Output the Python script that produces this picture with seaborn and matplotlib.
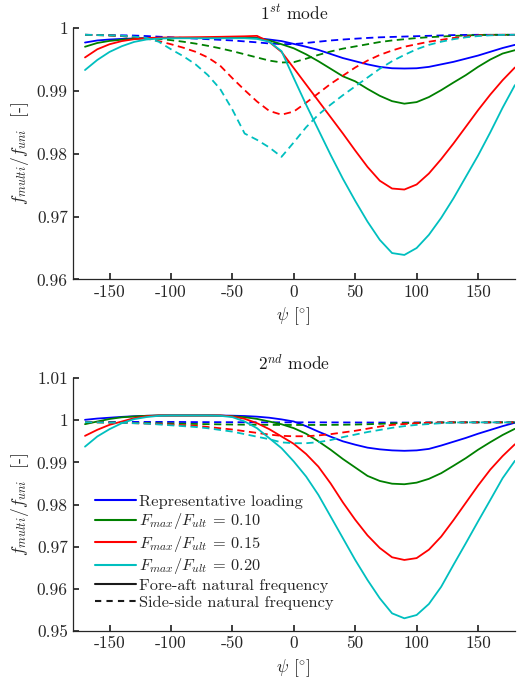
import pandas as pd
import matplotlib.pyplot as plt
import seaborn as sns
from matplotlib.lines import Line2D
from matplotlib.ticker import FuncFormatter

# wind-wave misalignment angle [deg]
psi = [-170, -160, -150, -140, -130, -120, -110, -100, -90, -80, -70, -60,
       -50, -40, -30, -20, -10, 0, 10, 20, 30, 40, 50, 60,
       70, 80, 90, 100, 110, 120, 130, 140, 150, 160, 170, 180]

cases = ["Representative loading", "0.10", "0.15", "0.20"]
case_labels = ["Representative loading",
               r"$F_{max}/F_{ult}$ = 0.10",
               r"$F_{max}/F_{ult}$ = 0.15",
               r"$F_{max}/F_{ult}$ = 0.20"]
case_colors = [(0, 0, 1), (0, 0.5, 0), (1, 0, 0), (0, 0.75, 0.75)]

# 1st mode, fore-aft
rep_fa_1 = [0.99767, 0.99800, 0.99815, 0.99825, 0.99832, 0.99838, 0.99840, 0.99840, 0.99840, 0.99840, 0.99840, 0.99840,
            0.99840, 0.99840, 0.99838, 0.99815, 0.99790, 0.99745, 0.99700, 0.99650, 0.99585, 0.99520, 0.99470, 0.99420,
            0.99380, 0.99358, 0.99354, 0.99358, 0.99380, 0.99420, 0.99460, 0.99510, 0.99560, 0.99620, 0.99680, 0.99730]
g_fa_1 = [0.99700, 0.99760, 0.99793, 0.99812, 0.99826, 0.99835, 0.99840, 0.99840, 0.99840, 0.99840, 0.99840, 0.99840,
          0.99840, 0.99840, 0.99835, 0.99800, 0.99740, 0.99675, 0.99580, 0.99470, 0.99350, 0.99230, 0.99150, 0.99030,
          0.98920, 0.98835, 0.98795, 0.98820, 0.98900, 0.99010, 0.99131, 0.99248, 0.99380, 0.99497, 0.99592, 0.99645]
r_fa_1 = [0.99530, 0.99660, 0.99740, 0.99790, 0.99820, 0.99838, 0.99845, 0.99848, 0.99850, 0.99852, 0.99855, 0.99858,
          0.99862, 0.99866, 0.99873, 0.99777, 0.99618, 0.99360, 0.99100, 0.98840, 0.98580, 0.98320, 0.98050, 0.97790,
          0.97570, 0.97446, 0.97430, 0.97510, 0.97685, 0.97913, 0.98162, 0.98426, 0.98691, 0.98940, 0.99168, 0.99370]
c_fa_1 = [0.99330, 0.99490, 0.99618, 0.99709, 0.99777, 0.99815, 0.99830, 0.99835, 0.99835, 0.99835, 0.99835, 0.99835,
          0.99835, 0.99835, 0.99825, 0.99780, 0.99630, 0.99200, 0.98780, 0.98380, 0.97980, 0.97600, 0.97250, 0.96920,
          0.96630, 0.96420, 0.96390, 0.96500, 0.96710, 0.96980, 0.97290, 0.97630, 0.97970, 0.98340, 0.98730, 0.99090]

# 1st mode, side-side
rep_ss_1 = [0.99890, 0.99888, 0.99885, 0.99882, 0.99878, 0.99870, 0.99860, 0.99850, 0.99840, 0.99830, 0.99820, 0.99810,
            0.99800, 0.99785, 0.99770, 0.99752, 0.99742, 0.99742, 0.99760, 0.99780, 0.99800, 0.99815, 0.99828, 0.99840,
            0.99850, 0.99856, 0.99862, 0.99868, 0.99874, 0.99880, 0.99885, 0.99888, 0.99890, 0.99890, 0.99890, 0.99890]
g_ss_1 = [0.99890, 0.99885, 0.99880, 0.99870, 0.99855, 0.99840, 0.99825, 0.99805, 0.99780, 0.99750, 0.99715, 0.99675,
          0.99630, 0.99580, 0.99530, 0.99480, 0.99450, 0.99455, 0.99510, 0.99570, 0.99625, 0.99670, 0.99705, 0.99740,
          0.99775, 0.99800, 0.99820, 0.99838, 0.99852, 0.99862, 0.99872, 0.99880, 0.99886, 0.99890, 0.99890, 0.99890]
r_ss_1 = [0.99890, 0.99885, 0.99880, 0.99870, 0.99855, 0.99830, 0.99790, 0.99740, 0.99685, 0.99620, 0.99530, 0.99400,
          0.99200, 0.99010, 0.98830, 0.98680, 0.98620, 0.98670, 0.98810, 0.98960, 0.99110, 0.99240, 0.99370, 0.99480,
          0.99570, 0.99640, 0.99700, 0.99740, 0.99780, 0.99810, 0.99840, 0.99860, 0.99880, 0.99888, 0.99890, 0.99890]
c_ss_1 = [0.99890, 0.99886, 0.99882, 0.99875, 0.99860, 0.99840, 0.99780, 0.99660, 0.99550, 0.99420, 0.99250, 0.99030,
          0.98700, 0.98320, 0.98220, 0.98100, 0.97950, 0.98180, 0.98420, 0.98620, 0.98780, 0.98930, 0.99070, 0.99210,
          0.99350, 0.99470, 0.99570, 0.99660, 0.99730, 0.99780, 0.99820, 0.99850, 0.99870, 0.99882, 0.99888, 0.99890]

# 2nd mode, fore-aft
rep_fa_2 = [1.00010, 1.00040, 1.00060, 1.00080, 1.00095, 1.00105, 1.00112, 1.00115, 1.00115, 1.00115, 1.00115, 1.00112,
            1.00108, 1.00100, 1.00085, 1.00060, 1.00020, 0.99970, 0.99860, 0.99730, 0.99610, 0.99500, 0.99420, 0.99350,
            0.99310, 0.99285, 0.99275, 0.99285, 0.99320, 0.99400, 0.99490, 0.99580, 0.99680, 0.99770, 0.99860, 0.99940]
g_fa_2 = [0.99907, 0.99970, 1.00030, 1.00070, 1.00090, 1.00105, 1.00113, 1.00113, 1.00113, 1.00113, 1.00113, 1.00110,
          1.00095, 1.00072, 1.00032, 0.99970, 0.99905, 0.99812, 0.99680, 0.99500, 0.99300, 0.99080, 0.98880, 0.98680,
          0.98560, 0.98495, 0.98482, 0.98520, 0.98610, 0.98744, 0.98920, 0.99100, 0.99300, 0.99480, 0.99650, 0.99797]
r_fa_2 = [0.99630, 0.99773, 0.99892, 0.99970, 1.00050, 1.00095, 1.00112, 1.00113, 1.00113, 1.00113, 1.00113, 1.00113,
          1.00090, 1.00034, 0.99931, 0.99789, 0.99615, 0.99440, 0.99200, 0.98900, 0.98500, 0.98050, 0.97640, 0.97270,
          0.96970, 0.96750, 0.96686, 0.96730, 0.96930, 0.97240, 0.97630, 0.98040, 0.98450, 0.98830, 0.99150, 0.99430]
c_fa_2 = [0.99374, 0.99615, 0.99789, 0.99931, 1.00026, 1.00075, 1.00105, 1.00113, 1.00113, 1.00113, 1.00113, 1.00105,
          1.00074, 0.99971, 0.99812, 0.99575, 0.99338, 0.99021, 0.98666, 0.98230, 0.97716, 0.97201, 0.96686, 0.96211,
          0.95777, 0.95420, 0.95302, 0.95380, 0.95642, 0.96050, 0.96570, 0.97080, 0.97600, 0.98110, 0.98625, 0.99037]

# 2nd mode, side-side
rep_ss_2 = [0.99960, 0.99960, 0.99960, 0.99960, 0.99960, 0.99960, 0.99960, 0.99960, 0.99958, 0.99956, 0.99955, 0.99954,
            0.99953, 0.99952, 0.99951, 0.99950, 0.99950, 0.99950, 0.99950, 0.99950, 0.99949, 0.99948, 0.99947, 0.99946,
            0.99945, 0.99945, 0.99945, 0.99946, 0.99947, 0.99948, 0.99950, 0.99950, 0.99950, 0.99950, 0.99950, 0.99950]
g_ss_2 = [0.99955, 0.99952, 0.99948, 0.99942, 0.99937, 0.99932, 0.99927, 0.99922, 0.99917, 0.99912, 0.99907, 0.99902,
          0.99898, 0.99895, 0.99892, 0.99890, 0.99889, 0.99888, 0.99888, 0.99889, 0.99890, 0.99893, 0.99898, 0.99905,
          0.99915, 0.99925, 0.99933, 0.99940, 0.99944, 0.99947, 0.99949, 0.99950, 0.99950, 0.99950, 0.99950, 0.99950]
r_ss_2 = [0.99955, 0.99950, 0.99945, 0.99940, 0.99930, 0.99920, 0.99910, 0.99900, 0.99880, 0.99870, 0.99840, 0.99810,
          0.99780, 0.99740, 0.99700, 0.99660, 0.99630, 0.99620, 0.99620, 0.99640, 0.99670, 0.99710, 0.99750, 0.99800,
          0.99850, 0.99890, 0.99910, 0.99930, 0.99940, 0.99945, 0.99950, 0.99950, 0.99950, 0.99950, 0.99950, 0.99950]
c_ss_2 = [0.99955, 0.99950, 0.99945, 0.99940, 0.99930, 0.99920, 0.99900, 0.99880, 0.99860, 0.99840, 0.99810, 0.99770,
          0.99730, 0.99670, 0.99610, 0.99550, 0.99475, 0.99455, 0.99455, 0.99480, 0.99530, 0.99600, 0.99660, 0.99720,
          0.99770, 0.99820, 0.99860, 0.99890, 0.99910, 0.99930, 0.99945, 0.99950, 0.99950, 0.99950, 0.99950, 0.99950]

mode1 = {"FA": [rep_fa_1, g_fa_1, r_fa_1, c_fa_1], "SS": [rep_ss_1, g_ss_1, r_ss_1, c_ss_1]}
mode2 = {"FA": [rep_fa_2, g_fa_2, r_fa_2, c_fa_2], "SS": [rep_ss_2, g_ss_2, r_ss_2, c_ss_2]}


def to_long(mode):
    rows = []
    for direction in ["FA", "SS"]:
        for case, values in zip(cases, mode[direction]):
            for x, y in zip(psi, values):
                rows.append({"psi": x, "ratio": y, "case": case, "direction": direction})
    return pd.DataFrame(rows)


sns.set_theme(style="ticks", rc={
    "xtick.direction": "in", "ytick.direction": "in",
    "xtick.major.size": 4, "ytick.major.size": 4,
    "axes.edgecolor": "0.15", "xtick.color": "0.15", "ytick.color": "0.15",
    "axes.linewidth": 0.9,
})
plt.rcParams["font.family"] = ["cmr10", "DejaVu Serif"]
plt.rcParams["mathtext.fontset"] = "cm"
plt.rcParams["axes.unicode_minus"] = False
plt.rcParams["axes.formatter.use_mathtext"] = False

fig = plt.figure(figsize=(5.27, 6.8), dpi=100)
ax1 = fig.add_axes([0.138, 0.589, 0.839, 0.370])
ax2 = fig.add_axes([0.138, 0.072, 0.839, 0.372])

fs = 12.5
palette = dict(zip(cases, case_colors))
dashes = {"FA": "", "SS": (4, 2.5)}

for ax, mode, title, ylim, yticks in [
    (ax1, mode1, r"1$^{st}$ mode", (0.96, 1.0), [0.96, 0.97, 0.98, 0.99, 1.0]),
    (ax2, mode2, r"2$^{nd}$ mode", (0.95, 1.01), [0.95, 0.96, 0.97, 0.98, 0.99, 1.0, 1.01]),
]:
    sns.lineplot(data=to_long(mode), x="psi", y="ratio", hue="case", style="direction",
                 hue_order=cases, palette=palette, dashes=dashes, errorbar=None,
                 linewidth=1.3, legend=False, ax=ax)
    ax.set_xlim(-180, 180)
    ax.set_ylim(*ylim)
    ax.set_xticks([-150, -100, -50, 0, 50, 100, 150])
    ax.set_yticks(yticks)
    ax.xaxis.set_major_formatter(FuncFormatter(lambda v, p: "%g" % v))
    ax.yaxis.set_major_formatter(FuncFormatter(lambda v, p: "%g" % round(v, 2)))
    ax.tick_params(labelsize=fs, colors="0.15")
    ax.set_title(title, fontsize=fs, color="0.1", pad=6)
    ax.set_xlabel(r"$\psi$ [$^{\circ}$]", fontsize=fs, color="0.15")
    ax.set_ylabel(r"$f_{multi}/f_{uni}$  [-]", fontsize=fs, color="0.15")
    sns.despine(ax=ax)

handles = [Line2D([], [], color=c, lw=1.5) for c in case_colors]
handles.append(Line2D([], [], color="k", lw=1.5))
handles.append(Line2D([], [], color="k", lw=1.5, dashes=(3, 2.5)))
labels = case_labels + ["Fore-aft natural frequency", "Side-side natural frequency"]
ax2.legend(handles, labels, loc="upper left", bbox_to_anchor=(0.051, 0.54), frameon=False,
           fontsize=11.8, handlelength=2.5, handletextpad=0.18, labelspacing=0.15,
           borderpad=0, borderaxespad=0)

fig.savefig("out.png", dpi=100)
